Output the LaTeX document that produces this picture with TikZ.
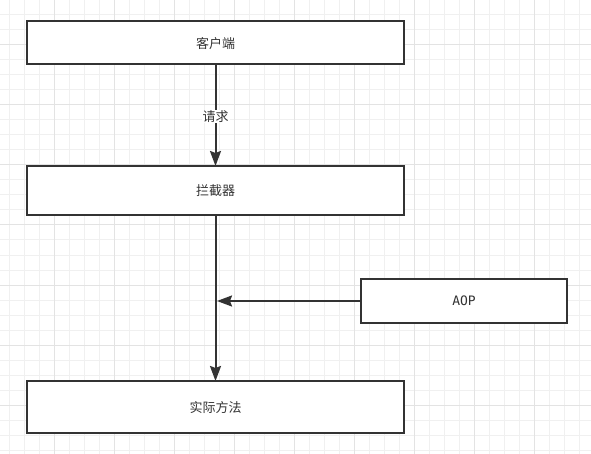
\documentclass[tikz,border=0pt]{standalone}
\usepackage{fontspec}
\newfontfamily\cjk{Noto Sans CJK SC}
\newfontfamily\aopfont{DejaVu Sans Mono}
\usetikzlibrary{arrows.meta}
\definecolor{inkgray}{HTML}{333333}
\definecolor{gridminor}{HTML}{F0F0F0}
\definecolor{gridmajor}{HTML}{E3E3E3}

\begin{document}
\begin{tikzpicture}[x=1pt, y=-1pt,
        box/.style={draw=inkgray, line width=2pt, fill=white, inner sep=0pt, outer sep=0pt, text=inkgray, font=\cjk\fontsize{13}{15}\selectfont},
        flow/.style={draw=inkgray, line width=2pt, -{Stealth[length=15pt, width=11pt, inset=2pt]}}]
            \useasboundingbox (0, 0) rectangle (591, 454);
            %%%%%%%%
            % background grid
            %%%%%%%%
            \fill[white] (0, 0) rectangle (591, 454);
            \foreach \k in {0,...,38} \draw[gridminor, line width=1pt] (9.3 + 15*\k, 0) -- (9.3 + 15*\k, 454);
            \foreach \k in {0,...,30} \draw[gridminor, line width=1pt] (0, 15*\k) -- (591, 15*\k);
            \foreach \k in {0,...,8} \draw[gridmajor, line width=1pt] (54.3 + 60*\k, 0) -- (54.3 + 60*\k, 454);
            \foreach \k in {0,...,6} \draw[gridmajor, line width=1pt] (0, 45 + 60*\k) -- (591, 45 + 60*\k);

            %%%%%%%%
            % boxes
            %%%%%%%%
            \node[box, minimum width=377pt, minimum height=43pt, text depth=-1pt] (client) at (215.5, 42.5) {客户端};
            \node[box, minimum width=377pt, minimum height=49pt, text depth=-1pt] (filter) at (215.5, 190.5) {拦截器};
            \node[box, minimum width=377pt, minimum height=52pt, text depth=-1pt] (method) at (215.5, 407) {实际方法};
            \node[box, minimum width=206pt, minimum height=44.5pt, font=\aopfont\fontsize{13}{15}\selectfont] (aop) at (464, 301) {AOP};

            %%%%%%%%
            % arrows
            %%%%%%%%
            \draw[flow] (client) -- node[fill=white, text=inkgray, font=\cjk\fontsize{13}{15}\selectfont, inner sep=1pt, yshift=-1.5pt] (request) {请求} (filter);
            \draw[flow] (filter) -- (method);
            \draw[flow, shorten >=1.5pt] (aop.west) -- (aop.west -| filter.south);
\end{tikzpicture}
\end{document}
